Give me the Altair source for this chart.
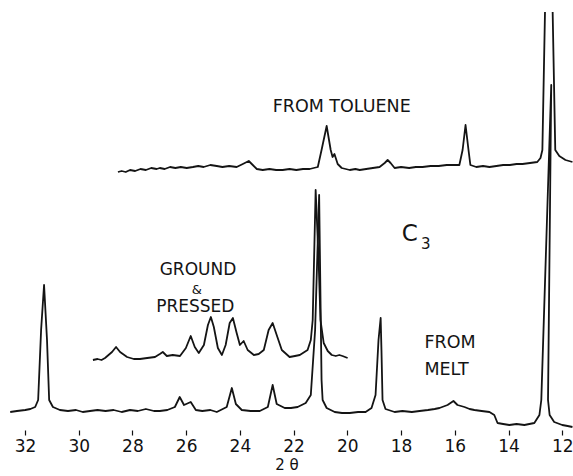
import altair as alt
import pandas as pd

# Diffractometer traces of sample C3 (2-theta in degrees, relative intensity, offset per trace)
toluene_2theta = [
    28.54, 28.40, 28.25, 28.09, 27.90, 27.70, 27.50, 27.30, 27.10, 26.98, 26.80, 26.60,
    26.40, 26.20, 25.98, 25.75, 25.55, 25.35, 25.10, 24.86, 24.65, 24.40, 24.12, 23.89,
    23.67, 23.52, 23.37, 23.15, 22.90, 22.65, 22.41, 22.15, 21.90, 21.65, 21.40, 21.10,
    20.96, 20.77, 20.62, 20.55, 20.48, 20.36, 20.21, 19.91, 19.70, 19.54, 19.30, 19.05,
    18.80, 18.61, 18.50, 18.39, 18.24, 18.00, 17.70, 17.45, 17.20, 16.90, 16.60, 16.30,
    16.05, 15.83, 15.71, 15.60, 15.49, 15.42, 15.20, 14.95, 14.71, 14.45, 14.20, 13.95,
    13.70, 13.48, 13.20, 12.93, 12.81, 12.74, 12.50, 12.26, 12.11, 11.88, 11.62,
]
toluene_counts = [
    258, 259, 258, 260, 259, 261, 260, 262, 261, 262, 261, 263,
    262, 263, 262, 263, 264, 263, 265, 264, 263, 264, 263, 266,
    269, 265, 261, 260, 261, 260, 260, 261, 260, 261, 261, 263,
    280, 304, 280, 273, 276, 266, 262, 260, 261, 260, 261, 262,
    263, 267, 270, 267, 262, 263, 262, 263, 263, 264, 264, 265,
    265, 265, 280, 305, 280, 265, 263, 264, 263, 264, 265, 265,
    266, 266, 267, 268, 272, 280, 620, 280, 274, 270, 268,
]

pressed_2theta = [
    29.47, 29.30, 29.15, 29.02, 28.76, 28.61, 28.46, 28.20, 27.95, 27.72, 27.45, 27.16,
    26.98, 26.87, 26.72, 26.50, 26.23, 26.01, 25.83, 25.68, 25.53, 25.34, 25.19, 25.08,
    24.97, 24.82, 24.67, 24.53, 24.38, 24.26, 24.12, 24.00, 23.86, 23.71, 23.48, 23.30,
    23.11, 22.93, 22.78, 22.63, 22.44, 22.15, 21.95, 21.77, 21.48, 21.36, 21.29, 21.18,
    21.07, 21.00, 20.88, 20.73, 20.58, 20.43, 20.30, 20.18, 19.99,
]
pressed_counts = [
    70, 71, 70, 72, 78, 83, 78, 73, 71, 71, 72, 73,
    76, 78, 74, 75, 74, 82, 94, 83, 77, 85, 105, 113,
    103, 82, 75, 85, 107, 112, 97, 85, 89, 80, 75, 76,
    80, 100, 107, 95, 80, 73, 74, 75, 80, 90, 110, 240,
    170, 110, 87, 79, 75, 74, 75, 74, 72,
]

melt_2theta = [
    32.55, 32.30, 31.99, 31.80, 31.62, 31.51, 31.40, 31.29, 31.18, 31.10, 30.96, 30.70,
    30.40, 30.10, 29.85, 29.58, 29.30, 29.00, 28.70, 28.40, 28.09, 27.80, 27.50, 27.20,
    26.98, 26.70, 26.42, 26.24, 26.08, 25.83, 25.64, 25.40, 25.10, 24.86, 24.49, 24.30,
    24.15, 23.93, 23.60, 23.26, 22.96, 22.78, 22.63, 22.33, 22.10, 21.85, 21.55, 21.36,
    21.20, 21.05, 20.96, 20.92, 20.77, 20.47, 20.20, 19.91, 19.60, 19.32, 19.10, 18.95,
    18.84, 18.76, 18.73, 18.69, 18.58, 18.24, 17.95, 17.60, 17.31, 17.00, 16.75, 16.57,
    16.27, 16.05, 15.90, 15.64, 15.45, 15.27, 15.00, 14.71, 14.53, 14.41, 14.20, 13.97,
    13.70, 13.41, 13.04, 12.85, 12.78, 12.41, 12.53, 12.47, 12.30, 12.00, 11.80, 11.62,
]
melt_counts = [
    18, 19, 20, 21, 23, 30, 100, 145, 90, 30, 23, 20,
    19, 20, 18, 19, 20, 19, 20, 18, 20, 19, 21, 19,
    19, 20, 23, 33, 25, 28, 20, 19, 20, 18, 23, 42,
    26, 20, 19, 19, 23, 45, 26, 22, 22, 23, 27, 35,
    100, 235, 50, 30, 22, 18, 17, 17, 18, 18, 22, 35,
    90, 112, 80, 30, 21, 18, 19, 18, 19, 20, 21, 22,
    25, 29, 25, 23, 21, 20, 19, 18, 15, 7, 6, 5,
    6, 5, 7, 15, 30, 345, 30, 15, 8, 5, 4, 3,
]

# Lettering placed in data coordinates
note_text = ["FROM TOLUENE", "GROUND", "&", "PRESSED", "C", "3", "FROM", "MELT"]
note_2theta = [20.21, 25.56, 25.60, 25.66, 17.68, 17.08, 17.13, 17.13]
note_counts = [323, 160, 140, 123, 196.5, 186.5, 87, 60]
note_size = [17.5, 17, 13, 17, 23, 15, 17.5, 17.5]
note_align = ["center", "center", "center", "center", "center", "center", "left", "left"]

tick_values = [32, 30, 28, 26, 24, 22, 20, 18, 16, 14, 12]

frames = []
for name, xs, ys in [
    ("toluene", toluene_2theta, toluene_counts),
    ("pressed", pressed_2theta, pressed_counts),
    ("melt", melt_2theta, melt_counts),
]:
    frames.append(pd.DataFrame({"trace": name, "two_theta": xs, "counts": ys, "order": range(len(xs))}))
traces = pd.concat(frames, ignore_index=True)

notes = pd.DataFrame({
    "label": note_text, "two_theta": note_2theta, "counts": note_counts,
    "size": note_size, "align": note_align,
})

x_scale = alt.Scale(domain=[11.60, 32.93], reverse=True, nice=False, zero=False)
y_scale = alt.Scale(domain=[0, 418], nice=False, zero=False)

x_axis = alt.Axis(
    values=tick_values, format="d", title="2 θ", domain=False, grid=False,
    tickSize=5, tickWidth=1.2, tickColor="#111", labelColor="#111",
    labelFont="DejaVu Sans", labelFontSize=17, labelPadding=3,
    labelFlush=False, labelOverlap=False,
    titleFont="DejaVu Sans", titleFontSize=15, titleFontWeight="normal",
    titleColor="#111", titlePadding=3,
)

lines = alt.Chart(traces).mark_line(
    color="#141414", strokeWidth=1.8, clip=True, strokeJoin="round"
).encode(
    x=alt.X("two_theta:Q", scale=x_scale, axis=x_axis),
    y=alt.Y("counts:Q", scale=y_scale, axis=None),
    detail="trace:N",
    order="order:Q",
)

def lettering(align):
    return alt.Chart(notes[notes["align"] == align]).mark_text(
        font="DejaVu Sans", color="#141414", align=align, baseline="middle"
    ).encode(
        x=alt.X("two_theta:Q", scale=x_scale),
        y=alt.Y("counts:Q", scale=y_scale),
        text="label:N",
        size=alt.Size("size:Q", scale=None, legend=None),
    )

chart = alt.layer(lines, lettering("center"), lettering("left")).properties(
    width=573, height=418,
    autosize=alt.AutoSizeParams(type="none"),
    padding={"left": 0, "top": 12, "right": 0, "bottom": 46},
    background="white",
).configure_view(stroke=None)

chart.save("out.html", embed_options={"renderer": "svg", "actions": False})
